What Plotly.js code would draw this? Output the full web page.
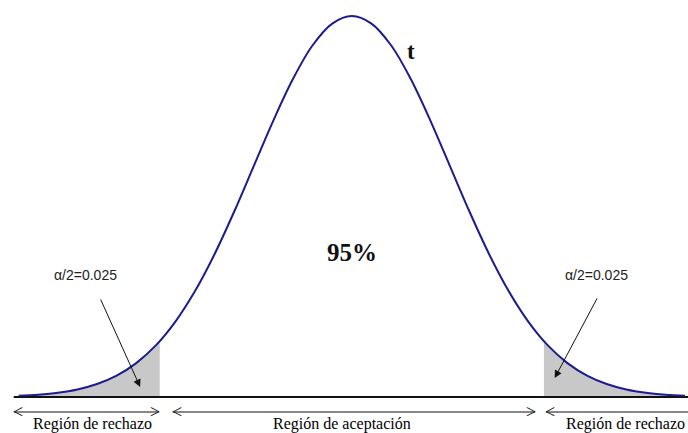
<!DOCTYPE html>
<html>
<head>
<meta charset="utf-8">
<script src="https://cdn.plot.ly/plotly-3.0.1.min.js"></script>
<style>html,body{margin:0;padding:0;background:#fff;}#chart{width:688px;height:433px;}</style>
</head>
<body>
<div id="chart"></div>
<script>
// Values (density curve of t, nearly normal)
const tValues = [-3.4,-3.2,-3.0,-2.8,-2.6,-2.4,-2.2,-2.0,-1.8,-1.6,-1.4,-1.2,-1.0,-0.8,-0.6,-0.4,-0.2,0.0,
                 0.2,0.4,0.6,0.8,1.0,1.2,1.4,1.6,1.8,2.0,2.2,2.4,2.6,2.8,3.0,3.2,3.4];
const densityValues = [0.0012,0.0024,0.0044,0.0079,0.0136,0.0224,0.0355,0.0540,0.0790,0.1109,0.1497,0.1942,0.2420,0.2897,0.3332,0.3683,0.3910,0.3989,
                       0.3910,0.3683,0.3332,0.2897,0.2420,0.1942,0.1497,0.1109,0.0790,0.0540,0.0355,0.0224,0.0136,0.0079,0.0044,0.0024,0.0012];
const criticalT = 1.96;
const criticalDensity = 0.0584;
const tailLabel = 'α/2=0.025';
const centerLabel = '95%';
const curveLabel = 't';
const regionLabels = ['Región de rechazo', 'Región de aceptación', 'Región de rechazo'];

// tails
const leftX = [], leftY = [], rightX = [criticalT], rightY = [criticalDensity];
tValues.forEach((t, i) => {
  if (t < -criticalT) { leftX.push(t); leftY.push(densityValues[i]); }
  if (t > criticalT) { rightX.push(t); rightY.push(densityValues[i]); }
});
leftX.push(-criticalT); leftY.push(criticalDensity);

const grey = '#c8c8c8';
const blue = '#1c1c8e';
const traces = [
  {x: leftX, y: leftY, type: 'scatter', mode: 'lines', fill: 'tozeroy', fillcolor: grey,
   line: {width: 0, shape: 'spline', color: grey}, hoverinfo: 'skip'},
  {x: rightX, y: rightY, type: 'scatter', mode: 'lines', fill: 'tozeroy', fillcolor: grey,
   line: {width: 0, shape: 'spline', color: grey}, hoverinfo: 'skip'},
  {x: [tValues[0] - 0.05, tValues[tValues.length - 1] + 0.1], y: [0, 0], type: 'scatter', mode: 'lines',
   line: {color: '#111', width: 2}, hoverinfo: 'skip'},
  {x: tValues, y: densityValues, type: 'scatter', mode: 'lines',
   line: {color: blue, width: 2, shape: 'spline'}, hoverinfo: 'skip'}
];

const serif = 'Liberation Serif, Times New Roman, serif';
const sans = 'Liberation Sans, Arial, sans-serif';
const arrowY = -0.0157, labelY = -0.0285;
const gap = 0.1;
const segs = [
  [tValues[0] - 0.08, -criticalT + 0.02],
  [-criticalT + gap, criticalT - 0.06],
  [criticalT - 0.01, 3.7]
];
const shapes = [];
const annotations = [];
segs.forEach((s, i) => {
  shapes.push({type: 'line', xref: 'x', yref: 'y', x0: s[0] + 0.03, x1: s[1] - 0.03, y0: arrowY, y1: arrowY,
    line: {color: '#111', width: 1.2}});
  annotations.push({x: s[0], y: arrowY, xref: 'x', yref: 'y', text: '<', showarrow: false, xanchor: 'left',
    yanchor: 'middle', font: {family: serif, size: 18, color: '#111'}});
  annotations.push({x: s[1], y: arrowY, xref: 'x', yref: 'y', text: '>', showarrow: false, xanchor: 'right',
    yanchor: 'middle', font: {family: serif, size: 18, color: '#111'}});
});
const labelCenters = [-2.65, -0.1, 2.79];
regionLabels.forEach((lab, i) => {
  annotations.push({x: labelCenters[i], y: labelY, xref: 'x', yref: 'y', text: lab, showarrow: false,
    xanchor: 'center', yanchor: 'middle', font: {family: serif, size: 16, color: '#000'}});
});
annotations.push({x: 0, y: 0.151, xref: 'x', yref: 'y', text: '<b>' + centerLabel + '</b>', showarrow: false,
  font: {family: serif, size: 25, color: '#111'}});
annotations.push({x: 0.6, y: 0.362, xref: 'x', yref: 'y', text: '<b>' + curveLabel + '</b>', showarrow: false,
  font: {family: serif, size: 23, color: '#111'}});
annotations.push({x: -2.72, y: 0.128, xref: 'x', yref: 'y', text: tailLabel, showarrow: false,
  font: {family: sans, size: 14, color: '#222'}});
annotations.push({x: 2.50, y: 0.128, xref: 'x', yref: 'y', text: tailLabel, showarrow: false,
  font: {family: sans, size: 14, color: '#222'}});
// pointer arrows
annotations.push({x: -2.16, y: 0.0105, ax: -2.57, ay: 0.1037, xref: 'x', yref: 'y', axref: 'x', ayref: 'y',
  text: '', showarrow: true, arrowhead: 2, arrowsize: 1.5, arrowwidth: 1, arrowcolor: '#111'});
annotations.push({x: 2.07, y: 0.0199, ax: 2.51, ay: 0.1047, xref: 'x', yref: 'y', axref: 'x', ayref: 'y',
  text: '', showarrow: true, arrowhead: 2, arrowsize: 1.5, arrowwidth: 1, arrowcolor: '#111'});

const layout = {
  width: 688, height: 433,
  margin: {l: 0, r: 0, t: 0, b: 0},
  paper_bgcolor: '#fff', plot_bgcolor: '#fff',
  showlegend: false,
  xaxis: {range: [-3.59, 3.43], visible: false, fixedrange: true},
  yaxis: {range: [-0.0377, 0.4157], visible: false, fixedrange: true},
  shapes: shapes,
  annotations: annotations
};
Plotly.newPlot('chart', traces, layout, {displayModeBar: false, staticPlot: true});
</script>
</body>
</html>
